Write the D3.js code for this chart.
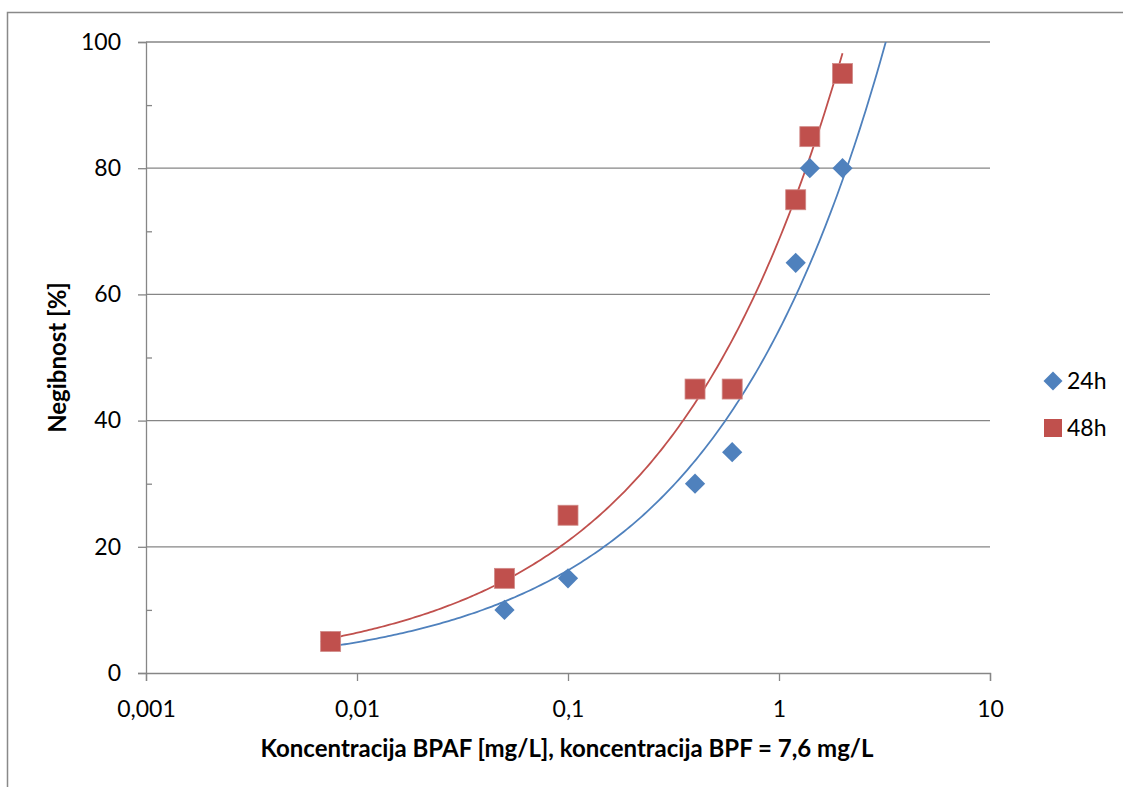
<!DOCTYPE html>
<html>
<head>
<meta charset="utf-8">
<script src="https://cdnjs.cloudflare.com/ajax/libs/d3/7.8.5/d3.min.js"></script>
<style>
  body { margin: 0; background: #fff; }
  text { font-family: Lato, "Open Sans", sans-serif; fill: #000; }
</style>
</head>
<body>
<div id="chart"></div>
<script>
// data
var conc = [0.0075, 0.05, 0.1, 0.4, 0.6, 1.2, 1.4, 2];
var neg24 = [5, 10, 15, 30, 35, 65, 80, 80];
var neg48 = [5, 15, 25, 45, 45, 75, 85, 95];
var seriesNames = ['24h', '48h'];
var xTicks = [0.001, 0.01, 0.1, 1, 10];
var xTickLabels = ['0,001', '0,01', '0,1', '1', '10'];
var yTicks = [0, 20, 40, 60, 80, 100];
var trendEnd = [4, 2]; // blue trend runs past the last point, red stops at it

var w = 1123, h = 787;
var pLeft = 146, pRight = 990, pTop = 42, pBottom = 673;

var svg = d3.select('#chart').append('svg')
  .attr('width', w)
  .attr('height', h);

// chart frame
svg.append('rect')
  .attr('x', 7.5).attr('y', 12.5)
  .attr('width', w + 20).attr('height', h + 20)
  .attr('fill', 'none')
  .attr('stroke', '#898989')
  .attr('stroke-width', 1.5);

var x = d3.scaleLog().domain([0.001, 10]).range([pLeft, pRight]);
var y = d3.scaleLinear().domain([0, 100]).range([pBottom, pTop]);

svg.append('clipPath').attr('id', 'plot')
  .append('rect')
  .attr('x', pLeft).attr('y', pTop)
  .attr('width', pRight - pLeft).attr('height', pBottom - pTop);

// horizontal gridlines
svg.selectAll('.grid')
  .data(yTicks.slice(1))
  .enter().append('line')
  .attr('x1', pLeft).attr('x2', pRight)
  .attr('y1', function(d) { return y(d); })
  .attr('y2', function(d) { return y(d); })
  .attr('stroke', '#868686')
  .attr('stroke-width', 1.3);

// y axis: major ticks outside, minor ticks inside
svg.append('g')
  .attr('transform', 'translate(' + pLeft + ',0)')
  .call(d3.axisLeft(y).tickValues(yTicks).tickSize(8).tickPadding(17).tickFormat(d3.format('d')))
  .call(function(g) {
    g.select('.domain').attr('stroke', '#868686').attr('stroke-width', 1.3);
    g.selectAll('.tick line').attr('stroke', '#868686').attr('stroke-width', 1.3);
    g.selectAll('.tick text').attr('font-size', 23).style('font-family', 'Lato, sans-serif');
  });

svg.append('g')
  .attr('transform', 'translate(' + pLeft + ',0)')
  .call(d3.axisRight(y).tickValues(d3.range(10, 100, 20)).tickSize(6).tickFormat(''))
  .call(function(g) {
    g.select('.domain').remove();
    g.selectAll('.tick line').attr('stroke', '#868686').attr('stroke-width', 1.3);
  });

// x axis
svg.append('g')
  .attr('transform', 'translate(0,' + pBottom + ')')
  .call(d3.axisBottom(x).tickValues(xTicks).tickSize(8).tickPadding(20)
    .tickFormat(function(d, i) { return xTickLabels[i]; }))
  .call(function(g) {
    g.select('.domain').attr('stroke', '#868686').attr('stroke-width', 1.3);
    g.selectAll('.tick line').attr('stroke', '#868686').attr('stroke-width', 1.3);
    g.selectAll('.tick text').attr('font-size', 23).style('font-family', 'Lato, sans-serif');
  });

// axis titles
svg.append('text')
  .attr('x', 567).attr('y', 757)
  .attr('text-anchor', 'middle')
  .attr('font-size', 24).attr('font-weight', 'bold')
  .text('Koncentracija BPAF [mg/L], koncentracija BPF = 7,6 mg/L');

svg.append('text')
  .attr('transform', 'translate(66,' + ((pTop + pBottom) / 2) + ') rotate(-90)')
  .attr('text-anchor', 'middle')
  .attr('font-size', 24).attr('font-weight', 'bold')
  .text('Negibnost [%]');

// power trendline y = a * x^b, least squares in log-log like Excel
function powerFit(xs, ys) {
  var lx = xs.map(Math.log), ly = ys.map(Math.log);
  var mx = d3.mean(lx), my = d3.mean(ly);
  var sxy = d3.sum(lx, function(v, i) { return (v - mx) * (ly[i] - my); });
  var sxx = d3.sum(lx, function(v) { return (v - mx) * (v - mx); });
  var b = sxy / sxx;
  return { a: Math.exp(my - b * mx), b: b };
}

var colors = ['#4F81BD', '#C0504D'];
var values = [neg24, neg48];

values.forEach(function(vals, k) {
  var fit = powerFit(conc, vals);
  var lo = Math.log10(conc[0]), hi = Math.log10(trendEnd[k]);
  var pts = d3.range(0, 201).map(function(i) {
    var xv = Math.pow(10, lo + (hi - lo) * i / 200);
    return [xv, fit.a * Math.pow(xv, fit.b)];
  });
  svg.append('path')
    .datum(pts)
    .attr('clip-path', 'url(#plot)')
    .attr('fill', 'none')
    .attr('stroke', colors[k])
    .attr('stroke-width', 1.8)
    .attr('d', d3.line()
      .x(function(d) { return x(d[0]); })
      .y(function(d) { return y(d[1]); }));
});

// markers
var diamond = d3.symbol().type(d3.symbolSquare).size(205);
svg.selectAll('.p24')
  .data(conc)
  .enter().append('path')
  .attr('d', diamond)
  .attr('transform', function(d, i) {
    return 'translate(' + x(d) + ',' + y(neg24[i]) + ') rotate(45)';
  })
  .attr('fill', colors[0]);

svg.selectAll('.p48')
  .data(conc)
  .enter().append('rect')
  .attr('x', function(d) { return x(d) - 10; })
  .attr('y', function(d, i) { return y(neg48[i]) - 10; })
  .attr('width', 20).attr('height', 20)
  .attr('fill', colors[1])
  .attr('stroke', '#D08A88')
  .attr('stroke-width', 0.8);

// legend
var legend = svg.selectAll('.legend')
  .data(seriesNames)
  .enter().append('g')
  .attr('transform', function(d, i) { return 'translate(1053,' + (381 + i * 47) + ')'; });

legend.append('path')
  .attr('d', function(d, i) {
    return i === 0 ? d3.symbol().type(d3.symbolSquare).size(180)() : 'M-9,-9H9V9H-9Z';
  })
  .attr('transform', function(d, i) { return i === 0 ? 'rotate(45)' : null; })
  .attr('fill', function(d, i) { return colors[i]; });

legend.append('text')
  .attr('x', 14).attr('dy', '0.36em')
  .attr('font-size', 23)
  .text(function(d) { return d; });
</script>
</body>
</html>
